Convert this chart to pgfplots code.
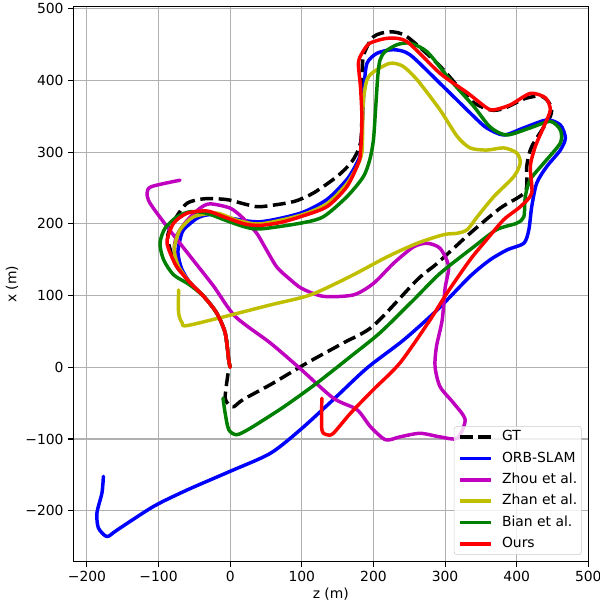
\documentclass[border=0pt]{standalone}
\usepackage{fontspec}
\setmainfont{DejaVu Sans}
\usepackage{pgfplots}
\pgfplotsset{compat=1.18}
\usetikzlibrary{calc}

\definecolor{cgt}{RGB}{0,0,0}
\definecolor{corb}{RGB}{0,0,255}
\definecolor{czhou}{RGB}{191,0,191}
\definecolor{czhan}{RGB}{191,191,0}
\definecolor{cbian}{RGB}{0,128,0}
\definecolor{cours}{RGB}{255,0,0}

\begin{document}
\begin{tikzpicture}[font=\fontsize{10}{12}\selectfont]
\begin{axis}[
  width=370.8pt, height=399.6pt, scale only axis,
  xmin=-219, xmax=500, ymin=-271, ymax=503,
  xtick={-200,-100,0,100,200,300,400,500},
  ytick={-200,-100,0,100,200,300,400,500},
  xticklabels={−200,−100,0,100,200,300,400,500},
  yticklabels={−200,−100,0,100,200,300,400,500},
  tick pos=left, tick align=outside,
  major tick length=3.5pt,
  tick style={black, line width=0.8pt},
  axis line style={line width=0.8pt},
  grid=major, grid style={black!31, line width=0.8pt},
  xlabel={z (m)}, ylabel={x (m)},
  xlabel style={at={(axis description cs:0.5,-0.058)}, anchor=center},
  ylabel style={at={(axis description cs:-0.119,0.5)}, anchor=center},
  every axis plot/.append style={line width=2.5pt, line join=round, line cap=round, smooth, tension=0.45},
  legend cell align=left,
  legend image code/.code={\draw[#1, line cap=butt, smooth=false] (0pt,0pt) -- (22pt,0pt);},
  legend style={at={(1,0)}, xshift=-4.75pt, yshift=4.8pt, anchor=south east,
    draw=black!20, rounded corners=2pt, fill=white, fill opacity=0.8, text opacity=1,
    inner sep=3pt, row sep=6pt, column sep=7pt,
    nodes={inner sep=0pt, text height=7.3pt, text depth=2.1pt},
    font=\fontsize{10}{12}\selectfont},
]

% GT
\addplot[cgt, dash pattern=on 9.25pt off 4pt, line cap=butt] coordinates {
(0,0) (-2,10) (-7,48) (-19,76) (-37,99) (-56,118) (-75,141) (-84,165) (-87,185)
(-75,210) (-60,229) (-37,235) (-5,234) (23,227) (42,224) (88,231) (116,243)
(149,266) (170,287) (182,313) (184,360) (184,396) (186,434) (200,461) (223,468)
(247,461) (293,420) (335,373) (363,359) (382,361) (412,375) (435,378) (447,366)
(447,350) (421,308) (414,280) (412,245) (377,222) (335,187) (289,145) (261,122)
(200,58) (158,34) (107,6) (60,-22) (18,-45) (5,-55) (-2,-52) (-7,-41) (-2,-2)
};
\addlegendentry{GT}

% ORB-SLAM
\addplot[corb] coordinates {
(0,0) (-2,10) (-7,48) (-19,76) (-37,99) (-56,118) (-68,138) (-73,160) (-70,178)
(-65,192) (-46,208) (-28,213) (0,208) (42,203) (98,215) (135,234) (163,262)
(177,285) (182,300) (185,350) (187,392) (191,424) (205,438) (228,443) (251,436)
(293,396) (340,350) (358,334) (382,324) (410,334) (442,345) (461,338) (468,320)
(461,303) (442,280) (428,257) (421,224) (417,192) (410,173) (387,164) (363,150)
(335,127) (289,80) (242,38) (191,-1) (144,-45) (98,-87) (56,-120) (0,-145)
(-60,-171) (-107,-194) (-158,-227) (-172,-236) (-184,-224) (-186,-203)
(-179,-175) (-177,-152)
};
\addlegendentry{ORB-SLAM}

% Zhou et al.
\addplot[czhou] coordinates {
(0,0) (-2,10) (-7,48) (-19,76) (-37,99) (-56,118) (-72,140) (-78,165) (-74,185)
(-60,205) (-42,222) (-28,228) (0,222) (18,208) (37,187) (50,165) (65,140)
(82,124) (100,110) (130,99) (172,101) (200,117) (228,145) (256,168) (275,173)
(293,166) (305,141) (300,110) (296,66) (288,29) (286,1) (293,-27) (312,-50)
(328,-73) (317,-99) (293,-97) (265,-92) (237,-97) (217,-101) (196,-83)
(177,-59) (144,-43) (98,-2) (56,34) (7,71) (-23,113) (-56,155) (-88,196)
(-112,229) (-116,243) (-110,252) (-70,261)
};
\addlegendentry{Zhou et al.}

% Zhan et al.
\addplot[czhan] coordinates {
(0,0) (-2,10) (-7,48) (-19,76) (-37,99) (-56,118) (-72,140) (-78,160) (-77,172)
(-70,192) (-51,210) (-19,215) (10,205) (42,200) (98,212) (135,228) (163,256)
(177,280) (184,300) (185,340) (186,373) (191,401) (200,412) (223,424) (241,420)
(261,401) (293,359) (317,322) (335,306) (358,303) (382,306) (400,299) (405,285)
(396,266) (368,238) (345,210) (331,192) (317,187) (298,185) (261,173) (219,154)
(168,127) (112,101) (56,87) (-56,59) (-67,62) (-72,76) (-72,108)
};
\addlegendentry{Zhan et al.}

% Bian et al.
\addplot[cbian] coordinates {
(0,0) (-2,10) (-7,48) (-19,76) (-37,99) (-58,116) (-79,129) (-93,150) (-98,173)
(-91,194) (-74,210) (-56,217) (-33,215) (-9,206) (20,196) (42,193) (98,201)
(130,210) (163,238) (186,266) (195,290) (200,317) (203,360) (206,405) (209,428)
(216,440) (233,450) (251,452) (275,440) (307,401) (340,364) (363,335) (386,324)
(419,334) (447,343) (461,331) (461,313) (438,285) (419,262) (412,238) (410,210)
(400,201) (372,192) (340,168) (293,131) (256,94) (209,48) (168,15) (121,-22)
(75,-55) (28,-85) (9,-94) (-2,-87) (-7,-64) (-10,-43)
};
\addlegendentry{Bian et al.}

% Ours
\addplot[cours] coordinates {
(0,0) (-2,10) (-7,48) (-19,76) (-37,99) (-56,118) (-75,141) (-86,165) (-88,178)
(-79,201) (-60,215) (-32,218) (-9,210) (20,200) (42,198) (70,202) (98,210)
(135,224) (163,252) (179,285) (182,300) (184,345) (182,390) (179,424) (184,438)
(195,452) (221,459) (247,454) (293,410) (331,383) (358,362) (368,359) (391,366)
(419,382) (440,376) (447,359) (438,336) (426,308) (419,280) (421,243) (405,224)
(382,206) (358,178) (335,150) (303,104) (279,66) (237,6) (200,-31) (168,-64)
(144,-92) (135,-94) (128,-87) (128,-43)
};
\addlegendentry{Ours}

\end{axis}
\pgfresetboundingbox
\path[use as bounding box] ($(current axis.south west)+(-52.8pt,-30.5pt)$) rectangle ($(current axis.north east)+(8.4pt,4.8pt)$);
\end{tikzpicture}
\end{document}
